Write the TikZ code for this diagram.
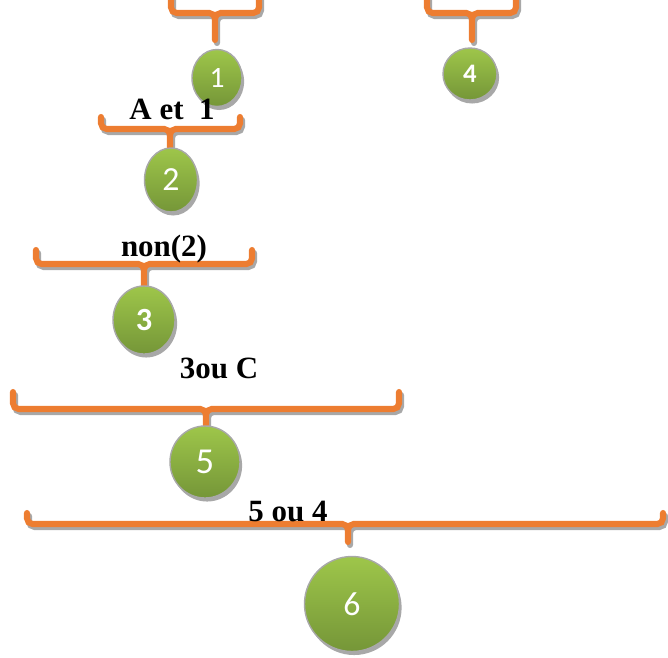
\documentclass[tikz,border=0pt]{standalone}
\usepackage{fontspec}
\setmainfont{Liberation Serif}
\newfontfamily\chiffres{Carlito}
\usepackage{tikz}
\usetikzlibrary{shapes.geometric,shadows}

\definecolor{orangeacc}{RGB}{237,125,49}
\definecolor{grisombre}{RGB}{168,168,168}
\definecolor{vertclair}{RGB}{158,198,74}
\definecolor{vertfonce}{RGB}{117,150,56}

% accolade : x gauche, x droite, y haut, y barre, x pied, y pied
\newcommand{\accolade}[6]{%
	\draw [ombre, shift={(2,3)}] (#1,#3) -- (#1,#4) -- (#5,#4) -- (#5,#6)
		(#2,#3) -- (#2,#4) -- (#5,#4) -- (#5,#6);
	\draw [acc] (#1,#3) -- (#1,#4) -- (#5,#4) -- (#5,#6)
		(#2,#3) -- (#2,#4) -- (#5,#4) -- (#5,#6);
}

\begin{document}
\begin{tikzpicture}[
		x=0.025cm, y=-0.025cm,
		acc/.style={
			draw=orangeacc,
			line width=4.3pt,
			line cap=round,
			rounded corners=4pt
		},
		ombre/.style={
			acc,
			draw=grisombre
		},
		bulle/.style 2 args={
			ellipse,
			draw=grisombre,
			line width=1pt,
			top color=vertclair,
			bottom color=vertfonce,
			text=white,
			inner sep=0pt,
			minimum width=#1,
			minimum height=#2,
			drop shadow={shadow xshift=1.5pt, shadow yshift=-2.5pt, fill=grisombre, opacity=1}
		},
		etiquette/.style={
			font=\fontsize{22}{24}\selectfont\bfseries,
			inner sep=0pt
		}
		]
		\clip (0,0) rectangle (668,657);
		
		% les accolades
		\accolade{171}{259}{-8}{13}{215}{40}
		\accolade{427}{516}{-8}{13}{472}{40}
		\accolade{101}{240}{117}{129}{170}{150}
		\accolade{36}{252}{250}{264}{144}{287}
		\accolade{13}{399}{392}{409}{206}{437}
		\accolade{27}{663}{513}{524}{348}{542}
		
		% puis les bulles
		\node [bulle={1.25cm}{1.425cm}, font=\chiffres\fontsize{21}{22}\selectfont] (n1) at (217,78) {1};
		\node [bulle={1.35cm}{1.3cm}, font=\chiffres\fontsize{19}{20}\selectfont\bfseries] (n4) at (470,74) {4};
		\node [bulle={1.325cm}{1.6cm}, font=\chiffres\fontsize{24}{26}\selectfont] (n2) at (171,180) {2};
		\node [bulle={1.55cm}{1.7cm}, font=\chiffres\fontsize{23}{24}\selectfont\bfseries] (n3) at (144,320) {3};
		\node [bulle={1.75cm}{1.8cm}, font=\chiffres\fontsize{26}{28}\selectfont] (n5) at (205,462) {5};
		\node [bulle={2.375cm}{2.375cm}, font=\chiffres\fontsize{24}{26}\selectfont] (n6) at (352,604) {6};
		
		% les textes au-dessus des accolades
		\node [etiquette] (et) at (172,109) {A et~ 1};
		\node [etiquette] (non) at (164,249) {non(2)};
		\node [etiquette] (ou1) at (219,368) {3ou C};
		\node [etiquette] (ou2) at (288,511) {5 ou 4};
		
\end{tikzpicture}
\end{document}
